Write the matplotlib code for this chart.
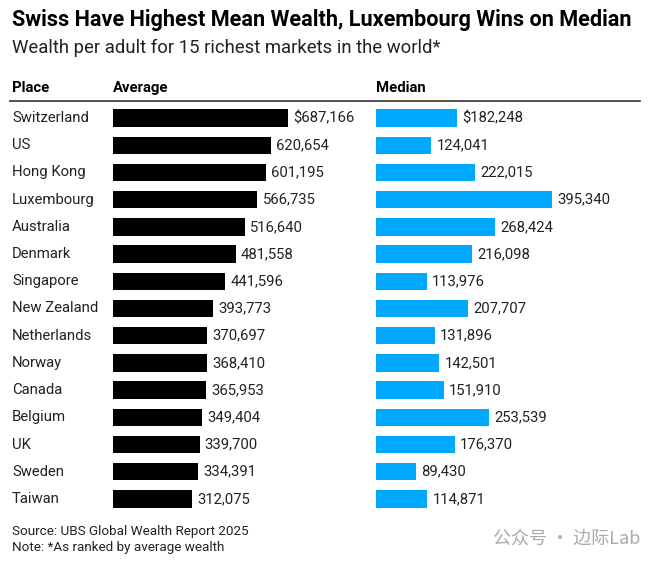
import matplotlib.pyplot as plt
from matplotlib.transforms import blended_transform_factory

places = ["Switzerland", "US", "Hong Kong", "Luxembourg", "Australia", "Denmark",
          "Singapore", "New Zealand", "Netherlands", "Norway", "Canada", "Belgium",
          "UK", "Sweden", "Taiwan"]
average = [687166, 620654, 601195, 566735, 516640, 481558, 441596, 393773,
           370697, 368410, 365953, 349404, 339700, 334391, 312075]
median = [182248, 124041, 222015, 395340, 268424, 216098, 113976, 207707,
          131896, 142501, 151910, 253539, 176370, 89430, 114871]

W, H = 660, 565
plt.rcParams["font.family"] = ["Roboto", "DejaVu Sans"]
fig = plt.figure(figsize=(W / 100, H / 100), dpi=100)


def fx(px):
    return px / W


def fy(py):
    return 1 - py / H


top, bot = 104.4, 512.6
ax1 = fig.add_axes([fx(113), fy(bot), fx(175), (bot - top) / H])
ax2 = fig.add_axes([fx(376), fy(bot), fx(176), (bot - top) / H])

rows = list(range(len(places)))
for ax, vals, col, mx in [(ax1, average, "black", max(average)),
                          (ax2, median, "#00A9FF", max(median))]:
    ax.barh(rows, vals, height=0.64, color=col)
    ax.set_xlim(0, mx)
    ax.set_ylim(len(places) - 0.5, -0.5)
    ax.axis("off")
    for i, v in enumerate(vals):
        lab = f"${v:,}" if i == 0 else f"{v:,}"
        ax.text(v + mx * 0.03, i, lab, va="center", ha="left", fontsize=10.7,
                color="#222222", clip_on=False)

tr = blended_transform_factory(fig.transFigure, ax1.transData)
for i, p in enumerate(places):
    fig.text(fx(12), i, p, transform=tr, va="center", ha="left",
             fontsize=10.7, color="#222222")

fig.text(fx(12), fy(20), "Swiss Have Highest Mean Wealth, Luxembourg Wins on Median",
         fontsize=15.6, fontweight="bold", va="center", ha="left", color="black")
fig.text(fx(12), fy(48), "Wealth per adult for 15 richest markets in the world*",
         fontsize=13.3, va="center", ha="left", color="#222222")

for x, t in [(12, "Place"), (113, "Average"), (376, "Median")]:
    fig.text(fx(x), fy(88), t, fontsize=10.7, fontweight="bold",
             va="center", ha="left", color="black")
fig.add_artist(plt.Line2D([fx(10), fx(640)], [fy(101), fy(101)],
                          color="#333333", lw=1.2))

fig.text(fx(12), fy(532), "Source: UBS Global Wealth Report 2025",
         fontsize=9.7, va="center", ha="left", color="#222222")
fig.text(fx(12), fy(547), "Note: *As ranked by average wealth",
         fontsize=9.7, va="center", ha="left", color="#222222")
fig.text(fx(640), fy(539), "公众号 · 边际Lab", fontsize=13, va="center",
         ha="right", color="#aaaaaa",
         family=["Noto Sans CJK SC", "DejaVu Sans"])

fig.savefig("out.png", dpi=100, facecolor="white")
